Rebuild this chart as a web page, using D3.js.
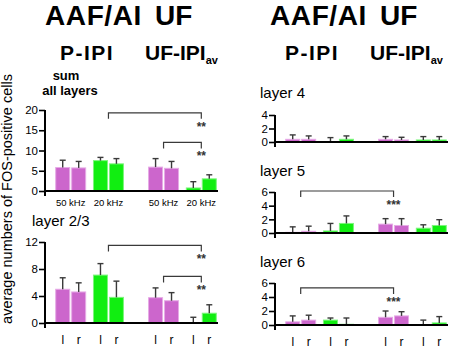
<!DOCTYPE html>
<html>
<head>
<meta charset="utf-8">
<script src="https://cdn.jsdelivr.net/npm/d3@7"></script>
<style>
  body { margin: 0; background: #fff; }
  svg { display: block; font-family: Arial, "Liberation Sans", Helvetica, sans-serif; }
</style>
</head>
<body>
<div id="chart"></div>
<script>
// Groups: condition > frequency > hemisphere (left / right)
const conditions = ["P-IPI", "UF-IPI"];
const freqs = ["50 kHz", "20 kHz"];
const sides = ["l", "r"];

// means and SEM, order: P-IPI 50 l,r | P-IPI 20 l,r | UF 50 l,r | UF 20 l,r
const sumMeans = [5.8, 5.7, 7.5, 6.7, 5.9, 5.6, 0.75, 3.0];
const sumSem = [1.8, 1.6, 0.8, 1.3, 2.1, 1.7, 1.55, 1.0];
const layer23Means = [5.0, 4.6, 7.1, 3.8, 3.75, 3.3, 0, 1.45];
const layer23Sem = [1.7, 1.35, 1.7, 2.4, 1.45, 1.2, 0.85, 1.25];
const layer4Means = [0.4, 0.4, 0, 0.4, 0.4, 0.3, 0.3, 0.3];
const layer4Sem = [0.65, 0.5, 0.65, 0.5, 0.4, 0.4, 0.5, 0.5];
const layer5Means = [0.1, 0.25, 0.3, 1.4, 1.3, 1.1, 0.7, 1.1];
const layer5Sem = [0.8, 0.75, 1.1, 1.1, 0.8, 1.0, 0.5, 0.85];
const layer6Means = [0.45, 0.7, 0.7, 0.1, 1.1, 1.3, 0, 0.3];
const layer6Sem = [0.85, 0.7, 0.3, 0.9, 0.9, 0.6, 0.7, 0.9];

const sumTicks = [0, 5, 10, 15, 20];
const layer23Ticks = [0, 4, 8, 12];
const layer4Ticks = [0, 2, 4];
const layer56Ticks = [0, 2, 4, 6];

// significance brackets (between group centres)
const sumBrackets = [
  { from: ["P-IPI", "20 kHz"], to: ["UF-IPI", "20 kHz"], level: 19.3, label: "**" },
  { from: ["UF-IPI", "50 kHz"], to: ["UF-IPI", "20 kHz"], level: 12, label: "**" }
];
const layer23Brackets = [
  { from: ["P-IPI", "20 kHz"], to: ["UF-IPI", "20 kHz"], level: 11.5, label: "**" },
  { from: ["UF-IPI", "50 kHz"], to: ["UF-IPI", "20 kHz"], level: 6.9, label: "**" }
];
const layer5Brackets = [
  { from: ["P-IPI", "50 kHz"], to: ["UF-IPI", "50 kHz"], level: 6.15, label: "***" }
];
const layer6Brackets = [
  { from: ["P-IPI", "50 kHz"], to: ["UF-IPI", "50 kHz"], level: 5.3, label: "***" }
];

const color = d3.scaleOrdinal().domain(freqs).range(["#cc66cc", "#11ee11"]);
const edge = d3.scaleOrdinal().domain(freqs).range(["#e6aae6", "#7cf57c"]);

const W = 454, H = 348;
const svg = d3.select("#chart").append("svg")
  .attr("width", W).attr("height", H);

// flat list of bar records
function makeRows(means, sem) {
  const rows = [];
  let i = 0;
  conditions.forEach(c => freqs.forEach(f => sides.forEach(s => {
    rows.push({ cond: c, freq: f, side: s, mean: means[i], sem: sem[i] });
    i++;
  })));
  return rows;
}

function drawPanel(p) {
  const g = svg.append("g").attr("transform", `translate(${p.x0},0)`);

  const xCond = d3.scaleBand().domain(conditions).range([0, 182])
    .paddingInner(0.26).paddingOuter(0.11);
  const xFreq = d3.scaleBand().domain(freqs).range([0, xCond.bandwidth()])
    .paddingInner(0.18);
  const xSide = d3.scaleBand().domain(sides).range([0, xFreq.bandwidth()])
    .paddingInner(0.06);
  const y = d3.scaleLinear().domain([0, p.max]).range([p.bottom, p.top]);

  const bx = d => xCond(d.cond) + xFreq(d.freq) + xSide(d.side);
  const center = (c, f) => xCond(c) + xFreq(f) + xFreq.bandwidth() / 2;

  const rows = makeRows(p.means, p.sem);

  // bars
  g.selectAll(".bar").data(rows).enter().append("rect")
    .attr("x", d => bx(d) + 0.5)
    .attr("y", d => y(d.mean))
    .attr("width", xSide.bandwidth() - 1)
    .attr("height", d => y(0) - y(d.mean))
    .attr("fill", d => color(d.freq))
    .attr("stroke", d => edge(d.freq))
    .attr("stroke-width", 1);

  // error bars
  const eb = g.selectAll(".err").data(rows).enter().append("g")
    .attr("stroke", "#3a3a3a").attr("stroke-width", 1.4);
  eb.append("line")
    .attr("x1", d => bx(d) + xSide.bandwidth() / 2)
    .attr("x2", d => bx(d) + xSide.bandwidth() / 2)
    .attr("y1", d => y(d.mean))
    .attr("y2", d => y(d.mean + d.sem));
  eb.append("line")
    .attr("x1", d => bx(d) + xSide.bandwidth() / 2 - 3)
    .attr("x2", d => bx(d) + xSide.bandwidth() / 2 + 3)
    .attr("y1", d => y(d.mean + d.sem))
    .attr("y2", d => y(d.mean + d.sem));

  // y axis
  const yAxis = d3.axisLeft(y).tickValues(p.ticks).tickFormat(d3.format("d"))
    .tickSize(6).tickPadding(1);
  const ax = g.append("g").call(yAxis);
  ax.select(".domain").remove();
  ax.selectAll(".tick line").attr("stroke", "#000").attr("stroke-width", 1.6);
  ax.selectAll(".tick text")
    .attr("font-size", 11.5)
    .attr("font-family", "Arial, 'Liberation Sans', sans-serif")
    .attr("fill", "#000");
  g.append("line")
    .attr("x1", 0).attr("x2", 0)
    .attr("y1", p.top).attr("y2", y(0) + 5)
    .attr("stroke", "#000").attr("stroke-width", 2);
  // baseline
  g.append("line")
    .attr("x1", -1).attr("x2", 173)
    .attr("y1", y(0)).attr("y2", y(0))
    .attr("stroke", "#000").attr("stroke-width", 2);

  // brackets
  (p.brackets || []).forEach(b => {
    const x1 = center(b.from[0], b.from[1]);
    const x2 = center(b.to[0], b.to[1]);
    const yy = y(b.level);
    g.append("path")
      .attr("d", `M${x1},${yy + 6}V${yy}H${x2}V${yy + 6}`)
      .attr("fill", "none")
      .attr("stroke", "#3a3a3a")
      .attr("stroke-width", 1.2);
    g.append("text")
      .attr("x", x2)
      .attr("y", yy + 18)
      .attr("text-anchor", "middle")
      .attr("font-size", 12)
      .attr("font-weight", "bold")
      .attr("fill", "#333")
      .text(b.label);
  });

  // x labels
  if (p.xlabels === "freq") {
    conditions.forEach(c => freqs.forEach(f => {
      g.append("text")
        .attr("x", center(c, f))
        .attr("y", y(0) + 15)
        .attr("text-anchor", "middle")
        .attr("font-size", 9.5)
        .text(f);
    }));
  } else if (p.xlabels === "side") {
    rows.forEach(d => {
      g.append("text")
        .attr("x", bx(d) + xSide.bandwidth() / 2)
        .attr("y", p.labelY)
        .attr("text-anchor", "middle")
        .attr("font-size", 12)
        .text(d.side);
    });
  }
}

drawPanel({ x0: 45, top: 110, bottom: 191, max: 20, ticks: sumTicks,
  means: sumMeans, sem: sumSem, brackets: sumBrackets, xlabels: "freq" });
drawPanel({ x0: 45, top: 242, bottom: 323, max: 12, ticks: layer23Ticks,
  means: layer23Means, sem: layer23Sem, brackets: layer23Brackets, xlabels: "side", labelY: 344 });
drawPanel({ x0: 275, top: 115, bottom: 142, max: 4, ticks: layer4Ticks,
  means: layer4Means, sem: layer4Sem });
drawPanel({ x0: 275, top: 192, bottom: 233, max: 6, ticks: layer56Ticks,
  means: layer5Means, sem: layer5Sem, brackets: layer5Brackets });
drawPanel({ x0: 275, top: 283, bottom: 325, max: 6, ticks: layer56Ticks,
  means: layer6Means, sem: layer6Sem, brackets: layer6Brackets, xlabels: "side", labelY: 346 });

// headings
function title(x, y, txt, size, weight) {
  return svg.append("text").attr("x", x).attr("y", y)
    .attr("font-size", size).attr("font-weight", weight || "normal").text(txt);
}
[45, 270].forEach(x => {
  title(x, 25, "AAF/AI", 28, "bold").attr("letter-spacing", 0.6);
  title(x + 110, 25, "UF", 28, "bold");
  title(x + 15, 60, "P-IPI", 21, "bold").attr("letter-spacing", 1.5);
  const t = title(x + 100, 60, "UF-IPI", 21, "bold");
  t.append("tspan").attr("dy", 4).attr("font-size", 11).text("av");
});

const sub = svg.append("text").attr("text-anchor", "middle")
  .attr("font-size", 13).attr("font-weight", "bold");
sub.append("tspan").attr("x", 66).attr("y", 80).text("sum");
sub.append("tspan").attr("x", 70).attr("y", 95).text("all layers");

title(32, 226, "layer 2/3", 15);
title(260, 98, "layer 4", 15);
title(260, 176, "layer 5", 15);
title(260, 267, "layer 6", 15);

svg.append("text")
  .attr("transform", "translate(12,199) rotate(-90)")
  .attr("text-anchor", "middle")
  .attr("font-size", 14.5)
  .text("average numbers of FOS-positive cells");
</script>
</body>
</html>
